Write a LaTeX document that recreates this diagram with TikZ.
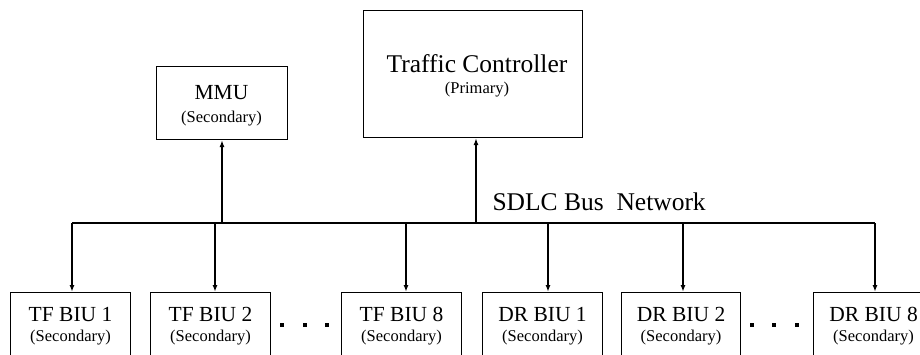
\documentclass[tikz,border=0pt]{standalone}
\usepackage{fontspec}
\setmainfont{Liberation Serif}[Ligatures=TeX]
\usetikzlibrary{arrows.meta}
\tikzset{
  box/.style={draw, line width=1.1pt, inner sep=0pt, fill=white},
  wire/.style={line width=1.4pt},
  arr/.style={wire, -{Latex[length=7pt,width=5pt]}},
  big/.style={font=\rmfamily\fontsize{25.5}{28}\selectfont},
  mid/.style={font=\rmfamily\fontsize{21.5}{24}\selectfont},
  small/.style={font=\rmfamily\fontsize{16.5}{19}\selectfont},
  dot/.style={fill=black, minimum size=3.6pt, inner sep=0pt},
}
\begin{document}
\begin{tikzpicture}[x=1pt, y=-1pt]
  \useasboundingbox (0,0) rectangle (920,354);
  \clip (0,0) rectangle (920,354);
  \fill[white] (0,0) rectangle (920,354);

  % upper units
  \node[box, minimum width=131pt, minimum height=73pt, anchor=north west] (mmu) at (156,66) {};
  \node[mid]   (mmut) at (221.5,93)  {MMU};
  \node[small] (mmus) at (221.5,119) {(Secondary)};

  \node[box, minimum width=219pt, minimum height=127pt, anchor=north west] (tc) at (363,10) {};
  \node[big]   (tct) at (477,64) {Traffic Controller};
  \node[small] (tcs) at (477,90) {(Primary)};

  % bus
  \coordinate (busL) at (72,223);
  \coordinate (busR) at (875,223);
  \coordinate (jm) at (222,223);
  \coordinate (jt) at (476,223);
  \draw[wire] (busL) -- (busR);
  \draw[arr] (jm) -- (jm |- mmu.south);
  \draw[arr] (jt) -- (jt |- tc.south);
  \node[big, anchor=base west] (bus) at (489,210) {SDLC Bus\hspace{0.25em} Network};

  % bus interface units
  \foreach \n/\x/\w/\lab in {
      b1/10/120/TF BIU 1,
      b2/150/120/TF BIU 2,
      b3/341/120/TF BIU 8,
      b4/482/120/DR BIU 1,
      b5/621/119/DR BIU 2,
      b6/813/120/DR BIU 8} {
    \node[box, minimum width=\w pt, minimum height=90pt, anchor=north west] (\n) at (\x,292) {};
    \node[mid]   (\n t) at ([yshift=-22pt]\n.north) {\lab};
    \node[small] (\n s) at ([yshift=-46pt]\n.north) {(Secondary)};
  }
  \foreach \n/\x in {b1/72, b2/215, b3/406, b4/548, b5/683, b6/875} {
    \coordinate (d\n) at (\x,223);
    \draw[arr] (d\n) -- (d\n |- \n.north);
  }

  % ellipses between the groups
  \foreach \i/\x in {1/282, 2/305, 3/327, 4/752, 5/774, 6/797}
    \node[dot] (dot\i) at (\x,325) {};
\end{tikzpicture}
\end{document}
